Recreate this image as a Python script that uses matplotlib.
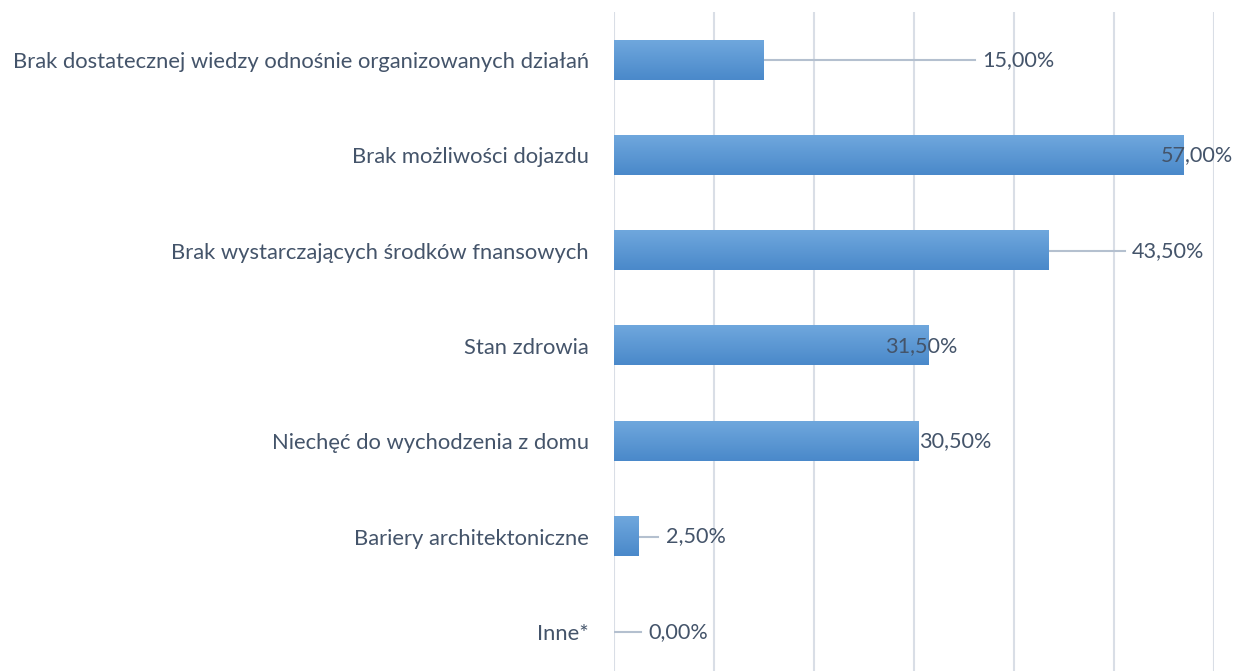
import numpy as np
import matplotlib
matplotlib.use("Agg")
import matplotlib.pyplot as plt
from matplotlib.colors import LinearSegmentedColormap

categories = [
    "Brak dostatecznej wiedzy odnośnie organizowanych działań",
    "Brak możliwości dojazdu",
    "Brak wystarczających środków fnansowych",
    "Stan zdrowia",
    "Niechęć do wychodzenia z domu",
    "Bariery architektoniczne",
    "Inne*",
]
values = [15.0, 57.0, 43.5, 31.5, 30.5, 2.5, 0.0]
labels = ["15,00%", "57,00%", "43,50%", "31,50%", "30,50%", "2,50%", "0,00%"]

# where Excel put each data label (left edge, % units) and leader line end
label_x = [36.8, 54.7, 51.8, 27.1, 30.5, 5.2, 3.4]
leader_end = [36.1, None, 51.1, None, None, 4.4, 2.7]

text_col = "#44546a"
grid_col = "#d9dee6"
lead_col = "#b4c0cf"
plt.rcParams["font.family"] = ["Lato", "DejaVu Sans"]

fig = plt.figure(figsize=(12.35, 6.71), dpi=100)
ax = fig.add_axes([614 / 1235, 0, 600 / 1235, 1 - 12.4 / 671])

cmap = LinearSegmentedColormap.from_list("bar", ["#4a89ca", "#6fa7dd"])
grad = np.linspace(0, 1, 64).reshape(-1, 1)
h = 0.41
for i, v in enumerate(values):
    if v > 0:
        ax.imshow(grad, cmap=cmap, aspect="auto", origin="lower",
                  extent=[0, v, i + h / 2, i - h / 2], zorder=2, interpolation="bilinear")
    if leader_end[i] is not None:
        ax.plot([v, leader_end[i]], [i, i], color=lead_col, lw=1.5, zorder=1)
    ax.text(label_x[i], i, labels[i], ha="left", va="center",
            fontsize=15.6, color=text_col, zorder=3)

ax.set_xlim(0, 60)
ax.set_ylim((671 - 60) / 95.3, -0.5)
ax.set_xticks(np.arange(0, 61, 10))
ax.xaxis.grid(True, color=grid_col, lw=1.5)
ax.set_axisbelow(True)
ax.set_yticks(range(len(categories)))
ax.set_yticklabels(categories, fontsize=15.8, color=text_col)
ax.tick_params(axis="y", length=0, pad=18)
ax.tick_params(axis="x", length=0, labelbottom=False)
for s in ax.spines.values():
    s.set_visible(False)

fig.savefig("out.png", dpi=100)
